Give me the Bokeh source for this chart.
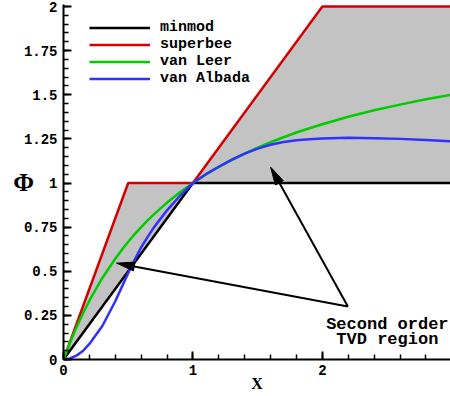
import numpy as np
from bokeh.plotting import figure
from bokeh.models import Range1d, FixedTicker, Label, Legend, LegendItem
from bokeh.embed import file_html
from bokeh.resources import INLINE

# ---------------- data ----------------
r_pw = [0.0, 0.5, 1.0, 2.0, 3.0]
minmod = [0.0, 0.5, 1.0, 1.0, 1.0]
superbee = [0.0, 1.0, 1.0, 2.0, 2.0]

r_s = [0.0, 0.05, 0.1, 0.15, 0.2, 0.3, 0.4, 0.45, 0.5, 0.55, 0.6, 0.65, 0.7, 0.8, 0.9, 1.0,
       1.1, 1.2, 1.3, 1.4, 1.5, 1.6, 1.7, 1.8, 1.9, 2.0, 2.2, 2.4, 2.6, 2.8, 3.0]
van_leer = [0.0, 0.095, 0.182, 0.261, 0.333, 0.462, 0.571, 0.621, 0.667, 0.71, 0.75, 0.788,
            0.824, 0.889, 0.947, 1.0, 1.048, 1.091, 1.130, 1.167, 1.2, 1.231, 1.259, 1.286,
            1.310, 1.333, 1.375, 1.412, 1.444, 1.474, 1.5]
van_albada = [0.0, 0.006, 0.022, 0.048, 0.088, 0.19, 0.33, 0.41, 0.49, 0.565, 0.635, 0.695,
              0.75, 0.845, 0.928, 1.0, 1.05, 1.092, 1.132, 1.166, 1.195, 1.217, 1.232, 1.242,
              1.248, 1.252, 1.256, 1.254, 1.25, 1.243, 1.236]

series_names = ["minmod", "superbee", "van Leer", "van Albada"]
series_colors = ["#000000", "#D40000", "#00CC00", "#3030FF"]

x_ticks = [0, 1, 2, 3]
x_tick_labels = ["0", "1", "2", "3"]
y_ticks = [0, 0.25, 0.5, 0.75, 1.0, 1.25, 1.5, 1.75, 2.0]
y_tick_labels = ["0", "0.25", "0.5", "0.75", "1", "1.25", "1.5", "1.75", "2"]

# annotation (data coords)
note_lines = ["Second order", "TVD region"]
note_x = 2.502
note_y = [0.198, 0.112]
arrow_from = (2.197, 0.30)
arrow_tips = [(0.41, 0.546), (1.60, 1.09)]

# ---------------- figure ----------------
W, H = 450, 396
left, top, bottom = 63, 4, 37
x_end = 2.99
frame_w = W - left
frame_h = H - top - bottom
sy = 176.5
y_end = frame_h / sy
sx = frame_w / x_end

p = figure(width=W, height=H, x_range=Range1d(0, x_end), y_range=Range1d(0, y_end),
           output_backend="svg", toolbar_location=None,
           min_border_left=left, min_border_right=0, min_border_top=top,
           min_border_bottom=bottom)
p.grid.visible = False
p.outline_line_color = None
p.background_fill_color = "white"

# shaded TVD region
p.varea(x=r_pw, y1=minmod, y2=superbee, fill_color="#C3C3C3")

lw = 2.5
r1 = p.line(r_pw, minmod, line_color=series_colors[0], line_width=lw)
r2 = p.line(r_pw, superbee, line_color=series_colors[1], line_width=lw)
r3 = p.line(r_s, van_leer, line_color=series_colors[2], line_width=lw)
r4 = p.line(r_s, van_albada, line_color=series_colors[3], line_width=lw)

# arrows
for tip in arrow_tips:
    tx, ty = tip
    fx, fy = arrow_from
    dx, dy = (tx - fx) * sx, (ty - fy) * sy
    n = np.hypot(dx, dy)
    ux, uy = dx / n, dy / n
    L, hw = 18.0, 4.5
    bx, by = tx * sx - ux * L, ty * sy - uy * L
    px_ = [tx * sx, bx - uy * hw, bx + uy * hw]
    py_ = [ty * sy, by + ux * hw, by - ux * hw]
    p.segment(x0=[fx], y0=[fy], x1=[bx / sx], y1=[by / sy], line_color="black", line_width=2)
    p.patch([v / sx for v in px_], [v / sy for v in py_], fill_color="black",
            line_color="black", line_width=1)

for txt, yy in zip(note_lines, note_y):
    p.add_layout(Label(x=note_x, y=yy, text=txt, text_align="center",
                       text_baseline="alphabetic", text_font="Liberation Mono",
                       text_font_style="bold", text_font_size="17px", text_color="black"))

# axes
mono = "Liberation Mono"
for ax in (p.xaxis[0], p.yaxis[0]):
    ax.axis_line_width = 2
    ax.axis_line_color = "black"
    ax.major_tick_in = 8
    ax.major_tick_out = 0
    ax.minor_tick_in = 5
    ax.minor_tick_out = 0
    ax.major_tick_line_width = 2
    ax.minor_tick_line_width = 1.5
    ax.major_tick_line_color = "black"
    ax.minor_tick_line_color = "black"
    ax.major_label_text_font = mono
    ax.major_label_text_font_style = "bold"
    ax.major_label_text_font_size = "14px"
    ax.major_label_text_color = "black"
    ax.axis_label_text_font = "Liberation Serif"
    ax.axis_label_text_font_style = "bold"
    ax.axis_label_text_color = "black"

p.xaxis[0].ticker = FixedTicker(ticks=x_ticks, minor_ticks=list(np.round(np.arange(0, 3.01, 0.2), 3)))
p.xaxis[0].major_label_overrides = {float(t): l for t, l in zip(x_ticks, x_tick_labels)}
p.xaxis[0].major_label_standoff = 5
p.xaxis[0].axis_label = "X"
p.xaxis[0].axis_label_text_font_size = "16px"
p.xaxis[0].axis_label_standoff = -3

p.yaxis[0].ticker = FixedTicker(ticks=y_ticks, minor_ticks=list(np.round(np.arange(0, 2.01, 0.05), 3)))
p.yaxis[0].major_label_overrides = {float(t): l for t, l in zip(y_ticks, y_tick_labels)}
p.yaxis[0].major_label_standoff = 6
p.yaxis[0].axis_label = "Φ"
p.yaxis[0].axis_label_orientation = "horizontal"
p.yaxis[0].axis_label_text_font_size = "25px"
p.yaxis[0].axis_label_standoff = -13

legend = Legend(items=[LegendItem(label=n, renderers=[r]) for n, r in
                       zip(series_names, [r1, r2, r3, r4])],
                location=(26, 271.7), margin=0, padding=0,
                spacing=0, glyph_width=61, glyph_height=17, label_height=17,
                label_standoff=10, border_line_color=None, background_fill_alpha=0,
                label_text_font=mono, label_text_font_style="bold",
                label_text_font_size="15px", label_text_color="black")
p.add_layout(legend)

open("out.html", "w").write(file_html(p, INLINE))
